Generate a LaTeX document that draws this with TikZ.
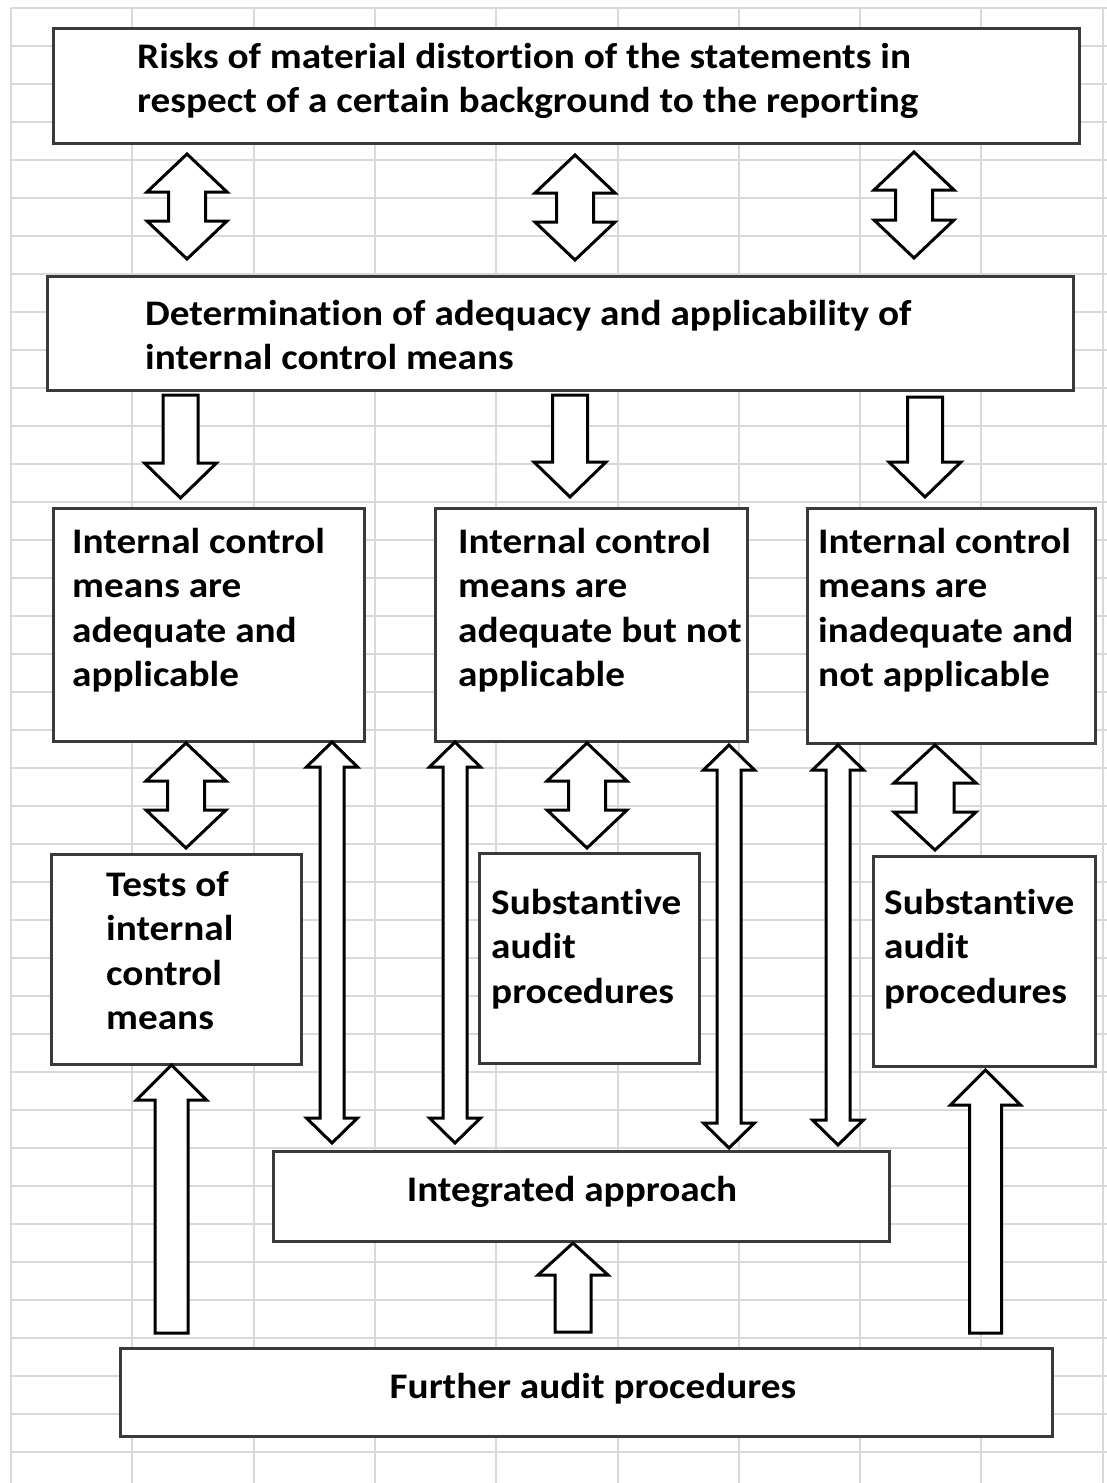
\documentclass[tikz,border=0pt]{standalone}
\usepackage{fontspec}
\setmainfont{Carlito}[Ligatures=NoCommon, BoldFeatures={FakeStretch=1.09}]
\definecolor{gridc}{HTML}{D9D9D9}
\definecolor{boxc}{HTML}{3A3A3A}
\newcommand{\UDArrow}[6]{% x, ytop, ybot, head half width, shaft half width, head height
  \draw[barrow] (#1,#2) -- ++(#4,#6) -- ++({#5-#4},0) -- ++(0,{#3-#2-2*#6}) -- ++({#4-#5},0)
    -- (#1,#3) -- ++({-#4},{-#6}) -- ++({#4-#5},0) -- ++(0,{-(#3-#2-2*#6)}) -- ++({#5-#4},0) -- cycle;}
\newcommand{\SArrow}[6]{% x, ybase, ytip, head half width, shaft half width, signed head height
  \draw[barrow] ({#1-#5},#2) -- ({#1+#5},#2) -- ({#1+#5},{#3-#6}) -- ({#1+#4},{#3-#6})
    -- (#1,#3) -- ({#1-#4},{#3-#6}) -- ({#1-#5},{#3-#6}) -- cycle;}
\begin{document}
\begin{tikzpicture}[x=1pt,y=-1pt,
  box/.style={draw=boxc, line width=3pt, fill=white, anchor=north west, inner sep=0pt},
  txt/.style={anchor=north west, inner sep=0pt, align=left, font=\fontsize{36}{44.5}\selectfont\bfseries},
  ctxt/.style={anchor=base, inner sep=0pt, font=\fontsize{36}{44.5}\selectfont\bfseries},
  barrow/.style={draw=black, line width=3pt, fill=white, line join=miter},
  gridline/.style={draw=gridc, line width=2pt}]
\useasboundingbox (0,0) rectangle (1107,1483);
\fill[white] (0,0) rectangle (1107,1483);
% spreadsheet grid
\foreach \k in {0,...,9} {\draw[gridline] ({11+121.3*\k},8) -- ({11+121.3*\k},1483);}
\foreach \k in {0,...,38} {\draw[gridline] (11,{8+38*\k}) -- (1107,{8+38*\k});}

% boxes
\node[box, minimum width=1026pt, minimum height=115pt] (risk) at (52,27) {};
\node[box, minimum width=1026pt, minimum height=114pt] (det) at (46,275) {};
\node[box, minimum width=311pt, minimum height=233pt] (adq) at (52,507) {};
\node[box, minimum width=312pt, minimum height=233pt] (adn) at (434,507) {};
\node[box, minimum width=288pt, minimum height=235pt] (ina) at (806,507) {};
\node[box, minimum width=250pt, minimum height=210pt] (tst) at (50,853) {};
\node[box, minimum width=220pt, minimum height=210pt] (sub1) at (478,852) {};
\node[box, minimum width=222pt, minimum height=210pt] (sub2) at (872,855) {};
\node[box, minimum width=616pt, minimum height=90pt] (int) at (272,1150) {};
\node[box, minimum width=932pt, minimum height=88pt] (fur) at (119,1347) {};

% texts
\node[txt] (trisk) at (137,43) {Risks of material distortion of the statements in\\respect of a certain background to the reporting};
\node[txt] (tdet) at (145,300) {Determination of adequacy and applicability of\\internal control means};
\node[txt] (tadq) at (72,528) {Internal control\\means are\\adequate and\\applicable};
\node[txt] (tadn) at (458,528) {Internal control\\means are\\adequate but not\\applicable};
\node[txt] (tina) at (818,528) {Internal control\\means are\\inadequate and\\not applicable};
\node[txt] (ttst) at (106,871) {Tests of\\internal\\control\\means};
\node[txt] (tsub1) at (491,889) {Substantive\\audit\\procedures};
\node[txt] (tsub2) at (884,889) {Substantive\\audit\\procedures};
\node[ctxt] (tint) at (572,1201) {Integrated approach};
\node[ctxt] (tfur) at (593,1398) {Further audit procedures};

% arrows risk <-> determination
\UDArrow{187}{154}{259}{40}{18.5}{38}
\UDArrow{575}{155}{260}{40}{18.5}{38}
\UDArrow{914}{152}{258}{40}{18.5}{38}
% determination -> cases
\SArrow{180.5}{395}{498}{36}{17.5}{35}
\SArrow{570}{395}{497}{36}{17.5}{35}
\SArrow{925}{397}{497}{36}{17.5}{35}
% cases <-> procedures
\UDArrow{186}{743}{848}{40}{18.5}{38}
\UDArrow{587}{743}{848}{40}{18.5}{38}
\UDArrow{935}{745}{850}{41}{19}{38}
% long arrows cases <-> integrated
\UDArrow{332}{742}{1143}{25.5}{12}{25}
\UDArrow{455}{742}{1143}{25.5}{12}{25}
\UDArrow{729}{745}{1148}{25.5}{12}{25}
\UDArrow{838}{745}{1145}{25.5}{12}{25}
% further -> up
\SArrow{171.5}{1333}{1065}{35}{16.5}{-35}
\SArrow{573}{1332}{1243}{35}{18}{-32}
\SArrow{985.5}{1333}{1070}{35}{16}{-35}
\end{tikzpicture}
\end{document}
